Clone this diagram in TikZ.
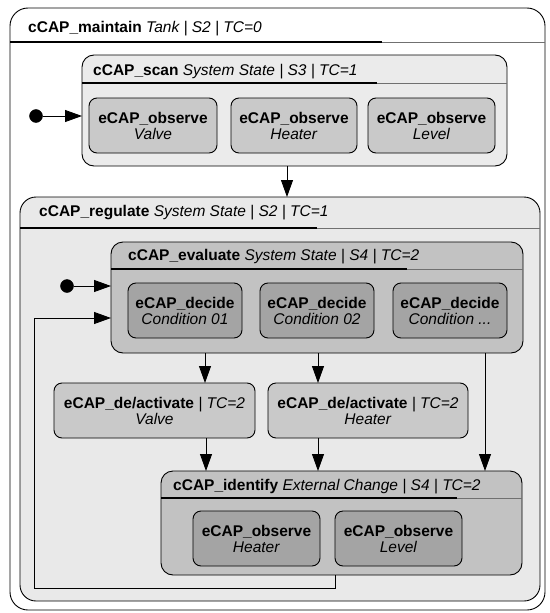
\documentclass[tikz,border=0pt]{standalone}
\usepackage{fontspec}
\setmainfont{Liberation Sans}
\usetikzlibrary{arrows.meta}
\definecolor{scanfill}{HTML}{EBEBEB}
\definecolor{regfill}{HTML}{E9E9E9}
\definecolor{evalfill}{HTML}{C2C2C2}
\definecolor{midfill}{HTML}{C9C9C9}
\definecolor{darkfill}{HTML}{A4A4A4}
\definecolor{hdrgray}{HTML}{707070}
\begin{document}
\begin{tikzpicture}[x=1pt,y=-1pt,
  font=\fontsize{15.5}{16}\selectfont,
  frame/.style={draw=black, line width=0.9pt, inner sep=0pt, outer sep=0pt},
  bigbox/.style={frame, rounded corners=16pt},
  midbox/.style={frame, rounded corners=12pt},
  smallbox/.style={frame, rounded corners=8pt, align=center, minimum height=55pt},
  hdr/.style={anchor=base west, inner sep=0pt},
  initdot/.style={circle, fill=black, draw=black, minimum size=13pt, inner sep=0pt},
  arr/.style={draw=black, line width=0.9pt, -{Triangle[length=17pt,width=12pt]}},
  ln/.style={draw=black, line width=0.9pt}
]
\useasboundingbox (0,0) rectangle (549,613);
\fill[white] (0,0) rectangle (549,613);

% outer
\node[bigbox, fill=white, minimum width=535pt, minimum height=602pt, rounded corners=18pt] (outer) at (277.5,309) {};
\draw[hdrgray, line width=0.9pt] (outer.west |- 0,42) -- (outer.east |- 0,42);
\draw[black, line width=1.1pt] (outer.west |- 0,42) -- (382,42);
\node[hdr] (outert) at (28,32) {\textbf{cCAP\_maintain} \textit{Tank | S2 | TC=0}};

% scan
\node[midbox, fill=scanfill, minimum width=425pt, minimum height=111pt] (scan) at (294.5,110.5) {};
\draw[hdrgray, line width=0.9pt] (scan.west |- 0,83) -- (scan.east |- 0,83);
\draw[black, line width=1.1pt] (scan.west |- 0,83) -- (377,83);
\node[hdr] (scant) at (93,75) {\textbf{cCAP\_scan} \textit{System State | S3 | TC=1}};
\node[smallbox, fill=midfill, minimum width=128pt] (sobs1) at (153,125.5) {\textbf{eCAP\_observe}\\\textit{Valve}};
\node[smallbox, fill=midfill, minimum width=126pt] (sobs2) at (294,125.5) {\textbf{eCAP\_observe}\\\textit{Heater}};
\node[smallbox, fill=midfill, minimum width=127pt] (sobs3) at (431.5,125.5) {\textbf{eCAP\_observe}\\\textit{Level}};
\node[initdot] (init1) at (36,116) {};
\draw[arr] (init1) -- (scan.west |- init1);

% regulate
\node[bigbox, fill=regfill, minimum width=520pt, minimum height=404pt] (regulate) at (280,399) {};
\draw[hdrgray, line width=0.9pt] (regulate.west |- 0,228) -- (regulate.east |- 0,228);
\draw[black, line width=1.1pt] (regulate.west |- 0,228) -- (317,228);
\node[hdr] (regulatet) at (39,216) {\textbf{cCAP\_regulate} \textit{System State | S2 | TC=1}};
\draw[arr] (scan.south -| 287,0) -- (regulate.north -| 287,0);

% evaluate
\node[midbox, fill=evalfill, minimum width=412pt, minimum height=111pt] (evaluate) at (317,297.5) {};
\draw[hdrgray, line width=0.9pt] (evaluate.west |- 0,269) -- (evaluate.east |- 0,269);
\draw[black, line width=1.1pt] (evaluate.west |- 0,269) -- (407,269);
\node[hdr] (evaluatet) at (128,260.5) {\textbf{cCAP\_evaluate} \textit{System State | S4 | TC=2}};
\node[smallbox, fill=darkfill, minimum width=114pt] (dec1) at (185,310.5) {\textbf{eCAP\_decide}\\\textit{Condition 01}};
\node[smallbox, fill=darkfill, minimum width=114pt] (dec2) at (317,310.5) {\textbf{eCAP\_decide}\\\textit{Condition 02}};
\node[smallbox, fill=darkfill, minimum width=114pt] (dec3) at (450,310.5) {\textbf{eCAP\_decide}\\\textit{Condition ...}};
\node[initdot] (init2) at (67,286) {};
\draw[arr] (init2) -- (evaluate.west |- init2);

% de/activate
\node[smallbox, fill=midfill, minimum width=201pt] (valveact) at (154.5,410.5) {\textbf{eCAP\_de/activate} \textit{| TC=2}\\\textit{Valve}};
\node[smallbox, fill=midfill, minimum width=200pt] (heateract) at (368,410.5) {\textbf{eCAP\_de/activate} \textit{| TC=2}\\\textit{Heater}};
\draw[arr] (evaluate.south -| 205,0) -- (valveact.north -| 205,0);
\draw[arr] (evaluate.south -| 318,0) -- (heateract.north -| 318,0);

% identify
\node[midbox, fill=evalfill, minimum width=361pt, minimum height=104pt] (identify) at (341.5,523) {};
\draw[hdrgray, line width=0.9pt] (identify.west |- 0,498) -- (identify.east |- 0,498);
\draw[black, line width=1.1pt] (identify.west |- 0,498) -- (457,498);
\node[hdr] (identifyt) at (173,490) {\textbf{cCAP\_identify} \textit{External Change | S4 | TC=2}};
\node[smallbox, fill=darkfill, minimum width=127pt] (iobs1) at (256.5,538.5) {\textbf{eCAP\_observe}\\\textit{Heater}};
\node[smallbox, fill=darkfill, minimum width=127pt] (iobs2) at (398.5,538.5) {\textbf{eCAP\_observe}\\\textit{Level}};

\draw[arr] (valveact.south -| 206,0) -- (identify.north -| 206,0);
\draw[arr] (heateract.south -| 318,0) -- (identify.north -| 318,0);
\draw[arr] (evaluate.south -| 485,0) -- (identify.north -| 485,0);

% loop back
\coordinate (lp1) at (335,588);
\coordinate (lp2) at (34,588);
\coordinate (lp3) at (34,318);
\draw[arr] (identify.south -| lp1) -- (lp1) -- (lp2) -- (lp3) -- (evaluate.west |- lp3);
\end{tikzpicture}
\end{document}
